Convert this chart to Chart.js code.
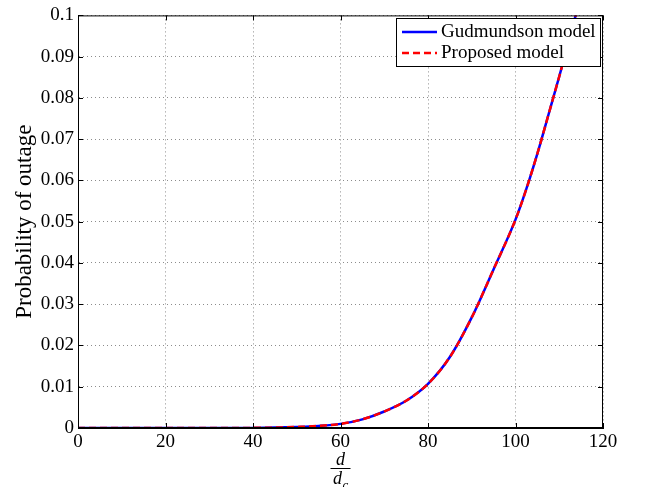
<!DOCTYPE html>
<html>
<head>
<meta charset="utf-8">
<script src="https://cdn.jsdelivr.net/npm/chart.js@4/dist/chart.umd.min.js"></script>
<style>
  html, body { margin: 0; padding: 0; background: #fff; }
  #wrap { width: 645px; height: 487px; }
</style>
</head>
<body>
<div id="wrap"><canvas id="outageChart" width="645" height="487"></canvas></div>
<script>
// distance ratio d/dc and outage probability
const distRatio = [0, 5, 10, 15, 20, 25, 30, 35, 40, 45, 50, 55, 60, 65, 70, 75, 80, 85, 90, 95, 100, 102.5, 105, 107.5, 110, 112.5, 115];
const gudmundson = [0, 0, 0, 0, 0, 0, 0.000002, 0.00001, 0.00003, 0.0001, 0.00025, 0.0005, 0.001, 0.0021, 0.004, 0.0066, 0.0107, 0.0172, 0.0268, 0.0385, 0.0505, 0.058, 0.0665, 0.0758, 0.0852, 0.095, 0.105];
const proposed = [0, 0, 0, 0, 0, 0, 0.000002, 0.00001, 0.00003, 0.0001, 0.00025, 0.0005, 0.001, 0.0021, 0.004, 0.0066, 0.0107, 0.0172, 0.0268, 0.0385, 0.0505, 0.058, 0.0665, 0.0758, 0.0852, 0.095, 0.105];
const seriesNames = ['Gudmundson model', 'Proposed model'];

const xTicks = [0, 20, 40, 60, 80, 100, 120];
const yTicks = [0, 0.01, 0.02, 0.03, 0.04, 0.05, 0.06, 0.07, 0.08, 0.09, 0.1];
const yTickLabels = ['0', '0.01', '0.02', '0.03', '0.04', '0.05', '0.06', '0.07', '0.08', '0.09', '0.1'];

const SERIF = '"Liberation Serif", "Times New Roman", serif';

// matlab style box, inward ticks, fraction x label and boxed legend
const matlabBits = {
  id: 'matlabBits',
  afterDatasetsDraw(chart) {
    const ctx = chart.ctx;
    const a = chart.chartArea;
    const xs = chart.scales.x, ys = chart.scales.y;
    ctx.save();
    ctx.strokeStyle = '#000';
    ctx.lineWidth = 1;
    ctx.strokeRect(a.left + 0.5, a.top + 0.5, a.right - a.left - 1, a.bottom - a.top - 1);
    ctx.beginPath();
    xTicks.forEach(v => {
      const px = Math.round(xs.getPixelForValue(v)) + 0.5;
      ctx.moveTo(px, a.bottom); ctx.lineTo(px, a.bottom - 5);
      ctx.moveTo(px, a.top); ctx.lineTo(px, a.top + 5);
    });
    yTicks.forEach(v => {
      const py = Math.round(ys.getPixelForValue(v)) + 0.5;
      ctx.moveTo(a.left, py); ctx.lineTo(a.left + 5, py);
      ctx.moveTo(a.right, py); ctx.lineTo(a.right - 5, py);
    });
    ctx.stroke();

    // legend
    const lx = 396, ly = 18, lw = 204, lh = 48;
    ctx.fillStyle = '#fff';
    ctx.fillRect(lx, ly, lw, lh);
    ctx.strokeRect(lx + 0.5, ly + 0.5, lw, lh);
    ctx.font = '19px ' + SERIF;
    ctx.textBaseline = 'middle';
    chart.data.datasets.forEach((ds, i) => {
      const ry = ly + 14 + i * 21;
      ctx.beginPath();
      ctx.strokeStyle = ds.borderColor;
      ctx.lineWidth = ds.borderWidth;
      ctx.setLineDash(ds.borderDash || []);
      ctx.moveTo(lx + 6, ry); ctx.lineTo(lx + 41, ry);
      ctx.stroke();
      ctx.setLineDash([]);
      ctx.fillStyle = '#000';
      ctx.fillText(ds.label, lx + 45, ry);
    });

    // x label: d over d_c
    const cx = (a.left + a.right) / 2;
    ctx.fillStyle = '#000';
    ctx.textAlign = 'center';
    ctx.textBaseline = 'alphabetic';
    ctx.font = 'italic 18px ' + SERIF;
    ctx.fillText('d', cx, 465);
    ctx.strokeStyle = '#000';
    ctx.lineWidth = 1;
    ctx.beginPath();
    ctx.moveTo(cx - 10, 468.5); ctx.lineTo(cx + 10, 468.5);
    ctx.stroke();
    ctx.fillText('d', cx - 3, 484);
    ctx.font = 'italic 13px ' + SERIF;
    ctx.fillText('c', cx + 5, 489);
    ctx.restore();
  }
};

new Chart(document.getElementById('outageChart').getContext('2d'), {
  type: 'line',
  data: {
    datasets: [{
      label: seriesNames[0],
      data: distRatio.map((d, i) => ({ x: d, y: gudmundson[i] })),
      borderColor: '#0000ff',
      borderWidth: 2.5,
      pointRadius: 0,
      cubicInterpolationMode: 'monotone',
      clip: 0,
      order: 1
    }, {
      label: seriesNames[1],
      data: distRatio.map((d, i) => ({ x: d, y: proposed[i] })),
      borderColor: '#ff0000',
      borderWidth: 2.5,
      borderDash: [7, 4],
      pointRadius: 0,
      cubicInterpolationMode: 'monotone',
      clip: 0,
      order: 0
    }]
  },
  options: {
    responsive: false,
    animation: false,
    layout: { padding: { left: 0, top: 12, right: 42, bottom: 0 } },
    plugins: {
      legend: { display: false },
      tooltip: { enabled: false }
    },
    scales: {
      x: {
        type: 'linear',
        min: 0,
        max: 120,
        afterBuildTicks: s => { s.ticks = xTicks.map(v => ({ value: v })); },
        afterFit: s => { s.height = 59; },
        grid: { color: '#8c8c8c', drawTicks: false },
        border: { display: true, color: '#000', dash: [1, 3] },
        ticks: { color: '#000', padding: 3, maxRotation: 0, font: { family: SERIF, size: 19 } }
      },
      y: {
        min: 0,
        max: 0.1,
        afterBuildTicks: s => { s.ticks = yTicks.map(v => ({ value: v })); },
        afterFit: s => { s.width = 78; },
        grid: { color: '#8c8c8c', drawTicks: false },
        border: { display: true, color: '#000', dash: [1, 3] },
        ticks: {
          color: '#000', padding: 4,
          font: { family: SERIF, size: 19 },
          callback: (v, i) => yTickLabels[i]
        },
        title: {
          display: true,
          text: 'Probability of outage',
          color: '#000',
          padding: { top: 11, bottom: 0 },
          font: { family: SERIF, size: 23 }
        }
      }
    }
  },
  plugins: [matlabBits]
});
</script>
</body>
</html>
